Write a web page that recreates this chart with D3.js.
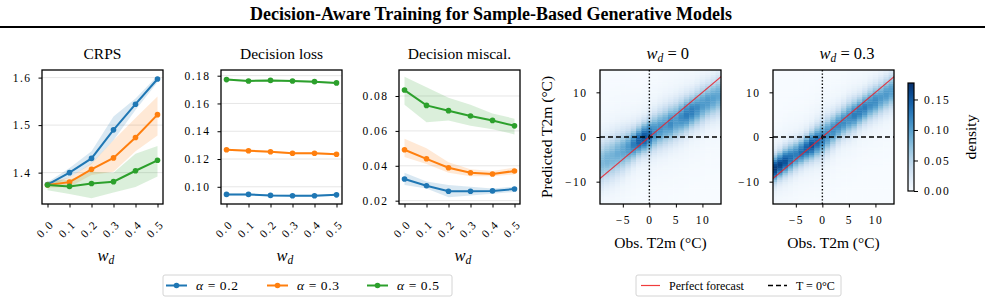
<!DOCTYPE html>
<html>
<head>
<meta charset="utf-8">
<script src="https://cdn.jsdelivr.net/npm/d3@7"></script>
<style>
  body { margin: 0; background: #fff; }
  svg text { font-family: "Liberation Serif", "Times New Roman", serif; fill: #000; }
</style>
</head>
<body>
<svg id="chart" width="985" height="304"></svg>
<script>
// ---- data ----
var wd = [0.0, 0.1, 0.2, 0.3, 0.4, 0.5];
var alphaLabels = ["0.2", "0.3", "0.5"];
var colors = ["#1f77b4", "#ff7f0e", "#2ca02c"];

var crpsMean = [
  [1.375, 1.400, 1.430, 1.490, 1.544, 1.597],
  [1.374, 1.380, 1.407, 1.431, 1.474, 1.522],
  [1.374, 1.371, 1.377, 1.381, 1.404, 1.426]
];
var crpsLo = [
  [1.370, 1.390, 1.418, 1.468, 1.532, 1.590],
  [1.368, 1.370, 1.395, 1.402, 1.445, 1.478],
  [1.363, 1.355, 1.346, 1.358, 1.370, 1.392]
];
var crpsHi = [
  [1.380, 1.410, 1.445, 1.518, 1.556, 1.604],
  [1.380, 1.390, 1.420, 1.468, 1.515, 1.560],
  [1.382, 1.385, 1.402, 1.400, 1.440, 1.456]
];

var lossMean = [
  [0.0945, 0.0945, 0.0938, 0.0935, 0.0935, 0.0942],
  [0.1267, 0.1260, 0.1252, 0.1241, 0.1241, 0.1234],
  [0.1772, 0.1762, 0.1766, 0.1762, 0.1757, 0.1748]
];
var lossLo = [
  [0.0938, 0.0938, 0.0931, 0.0928, 0.0928, 0.0935],
  [0.1260, 0.1253, 0.1245, 0.1234, 0.1234, 0.1227],
  [0.1765, 0.1755, 0.1759, 0.1755, 0.1750, 0.1741]
];
var lossHi = [
  [0.0952, 0.0952, 0.0945, 0.0942, 0.0942, 0.0949],
  [0.1274, 0.1267, 0.1259, 0.1248, 0.1248, 0.1241],
  [0.1779, 0.1769, 0.1773, 0.1769, 0.1764, 0.1755]
];

var miscMean = [
  [0.0324, 0.0286, 0.0254, 0.0254, 0.0256, 0.0267],
  [0.0492, 0.0440, 0.0389, 0.0360, 0.0353, 0.0370],
  [0.0834, 0.0746, 0.0716, 0.0685, 0.0660, 0.0629]
];
var miscLo = [
  [0.029, 0.027, 0.022, 0.023, 0.024, 0.025],
  [0.045, 0.041, 0.036, 0.034, 0.034, 0.035],
  [0.075, 0.065, 0.066, 0.063, 0.061, 0.058]
];
var miscHi = [
  [0.036, 0.031, 0.029, 0.028, 0.027, 0.028],
  [0.0555, 0.050, 0.042, 0.038, 0.037, 0.039],
  [0.091, 0.085, 0.079, 0.075, 0.070, 0.067]
];

// heatmaps: per observed-temperature column, centre / spread / peak density of predictions
var obsBins = [-9, -8, -7, -6, -5, -4, -3, -2, -1, 0, 1, 2, 3, 4, 5, 6, 7, 8, 9, 10, 11, 12, 13];
var centre0 = [-5.6, -5.0, -4.4, -3.7, -3.1, -2.4, -1.6, -0.8, -0.1, 0.5, 1.2, 1.9, 2.5, 3.1, 3.7, 4.4, 5.1, 5.8, 6.5, 7.3, 8.0, 8.6, 9.2];
var spread0 = [3.3, 3.2, 3.2, 3.1, 3.0, 2.7, 2.4, 2.2, 2.2, 2.4, 2.6, 2.7, 2.8, 2.7, 2.8, 2.7, 2.6, 2.5, 2.6, 2.7, 2.6, 2.7, 2.8];
var peak0 = [0.08, 0.085, 0.085, 0.09, 0.095, 0.105, 0.125, 0.145, 0.155, 0.14, 0.115, 0.11, 0.105, 0.115, 0.105, 0.115, 0.125, 0.125, 0.115, 0.105, 0.105, 0.10, 0.095];
var centre3 = [-7.0, -6.2, -5.4, -4.7, -4.0, -3.3, -2.5, -1.8, -1.0, -0.3, 0.6, 1.6, 2.6, 3.5, 4.3, 5.0, 5.8, 6.6, 7.4, 8.1, 8.8, 9.6, 10.3];
var spread3 = [1.9, 1.9, 2.0, 2.1, 2.1, 2.0, 2.0, 2.1, 2.3, 2.5, 2.5, 2.4, 2.3, 2.3, 2.4, 2.3, 2.2, 2.2, 2.3, 2.3, 2.4, 2.4, 2.5];
var peak3 = [0.17, 0.165, 0.155, 0.135, 0.125, 0.135, 0.145, 0.155, 0.14, 0.125, 0.115, 0.115, 0.115, 0.115, 0.115, 0.125, 0.125, 0.125, 0.115, 0.115, 0.105, 0.105, 0.10];
var predBins = d3.range(-14.75, 15, 0.5);
var cbarTicks = [0.00, 0.05, 0.10, 0.15];

var svg = d3.select("#chart");
var tickFont = "11.5px";

// title + rule
svg.append("text")
  .attr("x", 491).attr("y", 20)
  .attr("text-anchor", "middle")
  .style("font-weight", "bold").style("font-size", "18px")
  .text("Decision-Aware Training for Sample-Based Generative Models");
svg.append("line")
  .attr("x1", 0).attr("x2", 985).attr("y1", 27).attr("y2", 27)
  .attr("stroke", "#000").attr("stroke-width", 2);

function wdLabel(sel, suffix) {
  sel.append("tspan").style("font-style", "italic").text("w");
  sel.append("tspan").style("font-style", "italic").style("font-size", "0.7em").attr("dy", 3).text("d");
  if (suffix) sel.append("tspan").attr("dy", -3).text(suffix);
}

function styleAxis(a) {
  a.select(".domain").remove();
  a.attr("font-family", null).attr("font-size", null);
  a.selectAll(".tick line").attr("stroke", "#000").attr("stroke-width", 1);
  a.selectAll(".tick text").attr("fill", "#000")
    .style("font-family", "'Liberation Serif', serif")
    .style("font-size", tickFont).style("letter-spacing", "1.5px");
}

function linePanel(left, top, yDomain, yTicks, fmt, means, los, his, title) {
  var w = 121, h = 134;
  var x = d3.scaleLinear().domain([-0.025, 0.525]).range([left, left + w]);
  var y = d3.scaleLinear().domain(yDomain).range([top + h, top]);
  var g = svg.append("g");

  g.selectAll("line.grid").data(yTicks).enter().append("line")
    .attr("x1", left).attr("x2", left + w)
    .attr("y1", function(d) { return y(d); }).attr("y2", function(d) { return y(d); })
    .attr("stroke", "#e6e6e6").attr("stroke-width", 1);

  means.forEach(function(m, i) {
    var area = d3.area()
      .x(function(d, j) { return x(wd[j]); })
      .y0(function(d, j) { return y(los[i][j]); })
      .y1(function(d, j) { return y(his[i][j]); });
    g.append("path").datum(m).attr("d", area)
      .attr("fill", colors[i]).attr("fill-opacity", 0.17);
  });
  means.forEach(function(m, i) {
    var line = d3.line()
      .x(function(d, j) { return x(wd[j]); })
      .y(function(d) { return y(d); });
    g.append("path").datum(m).attr("d", line)
      .attr("fill", "none").attr("stroke", colors[i]).attr("stroke-width", 2);
    g.selectAll(null).data(m).enter().append("circle")
      .attr("cx", function(d, j) { return x(wd[j]); })
      .attr("cy", function(d) { return y(d); })
      .attr("r", 2.8).attr("fill", colors[i]);
  });

  var ax = g.append("g").attr("transform", "translate(0," + (top + h) + ")")
    .call(d3.axisBottom(x).tickValues(wd).tickSize(3.5).tickFormat(d3.format(".1f")));
  styleAxis(ax);
  ax.selectAll(".tick text")
    .attr("y", null).attr("dy", null)
    .attr("text-anchor", "middle").attr("dominant-baseline", "central")
    .attr("transform", "translate(-3,25) rotate(-45)");

  var ay = g.append("g").attr("transform", "translate(" + left + ",0)")
    .call(d3.axisLeft(y).tickValues(yTicks).tickSize(3.5).tickFormat(d3.format(fmt)).tickPadding(7));
  styleAxis(ay);

  g.append("rect").attr("x", left).attr("y", top).attr("width", w).attr("height", h)
    .attr("fill", "none").attr("stroke", "#000").attr("stroke-width", 1.3);

  g.append("text").attr("x", left + w / 2).attr("y", top - 11)
    .attr("text-anchor", "middle").style("font-size", "15.5px").text(title);
  var xl = g.append("text").attr("x", left + w / 2 - 5).attr("y", top + h + 57)
    .style("font-size", "16.5px");
  wdLabel(xl);
}

linePanel(42, 70, [1.334, 1.616], [1.4, 1.5, 1.6], ".1f", crpsMean, crpsLo, crpsHi, "CRPS");
linePanel(221, 70, [0.0876, 0.1841], [0.10, 0.12, 0.14, 0.16, 0.18], ".2f", lossMean, lossLo, lossHi, "Decision loss");
linePanel(399, 70, [0.0181, 0.0949], [0.02, 0.04, 0.06, 0.08], ".2f", miscMean, miscLo, miscHi, "Decision miscal.");

// heatmaps
var vmax = 0.177;
var cmap = d3.scaleSequential(d3.interpolateBlues).domain([0, vmax]).clamp(true);

function heatPanel(id, left, top, centre, spread, peak, suffix, withYLabel) {
  var w = 121, h = 134;
  var x = d3.scaleLinear().domain([-9.3, 13.5]).range([left, left + w]);
  var y = d3.scaleLinear().domain([-15, 15]).range([top + h, top]);
  var g = svg.append("g");
  svg.append("clipPath").attr("id", id).append("rect")
    .attr("x", left).attr("y", top).attr("width", w).attr("height", h);
  var body = g.append("g").attr("clip-path", "url(#" + id + ")");

  var cells = [];
  obsBins.forEach(function(o, i) {
    predBins.forEach(function(p) {
      var z = (p - centre[i]) / spread[i];
      var v = peak[i] * (0.9 * Math.exp(-0.5 * z * z) + 0.1 * Math.exp(-0.5 * z * z / 6.25));
      cells.push({ o: o, p: p, v: v });
    });
  });
  body.selectAll("rect").data(cells).enter().append("rect")
    .attr("x", function(d) { return x(d.o - 0.5); })
    .attr("y", function(d) { return y(d.p + 0.25); })
    .attr("width", x(1) - x(0) + 0.4)
    .attr("height", y(0) - y(0.5) + 0.4)
    .attr("fill", function(d) { return cmap(d.v); });

  body.append("line").attr("x1", x(-15)).attr("y1", y(-15)).attr("x2", x(15)).attr("y2", y(15))
    .attr("stroke", "#e8202a").attr("stroke-width", 1.1).attr("stroke-opacity", 0.85);
  body.append("line").attr("x1", left).attr("x2", left + w).attr("y1", y(0)).attr("y2", y(0))
    .attr("stroke", "#000").attr("stroke-width", 1.4).attr("stroke-dasharray", "5,3");
  body.append("line").attr("x1", x(0)).attr("x2", x(0)).attr("y1", top).attr("y2", top + h)
    .attr("stroke", "#000").attr("stroke-width", 1.4).attr("stroke-dasharray", "1.4,2");

  var ax = g.append("g").attr("transform", "translate(0," + (top + h) + ")")
    .call(d3.axisBottom(x).tickValues([-5, 0, 5, 10]).tickSize(3.5).tickPadding(8));
  styleAxis(ax);
  var ay = g.append("g").attr("transform", "translate(" + left + ",0)")
    .call(d3.axisLeft(y).tickValues([-10, 0, 10]).tickSize(3.5).tickPadding(9));
  styleAxis(ay);

  g.append("rect").attr("x", left).attr("y", top).attr("width", w).attr("height", h)
    .attr("fill", "none").attr("stroke", "#000").attr("stroke-width", 1.3);

  var t = g.append("text").attr("x", left + w / 2 - 14).attr("y", top - 11)
    .style("font-size", "16.5px");
  wdLabel(t, " = " + suffix);

  g.append("text").attr("x", left + w / 2).attr("y", top + h + 44)
    .attr("text-anchor", "middle").style("font-size", "15.5px").text("Obs. T2m (°C)");
  if (withYLabel) {
    g.append("text").attr("transform", "translate(" + (left - 54) + "," + (top + h / 2) + ") rotate(-90)")
      .attr("text-anchor", "middle").attr("dominant-baseline", "central")
      .style("font-size", "15.5px").text("Predicted T2m (°C)");
  }
}

heatPanel("clip0", 600, 70, centre0, spread0, peak0, "0", true);
heatPanel("clip3", 773, 70, centre3, spread3, peak3, "0.3", false);

// colorbar
var cb = { left: 908, top: 83, w: 6, h: 108 };
var grad = svg.append("defs").append("linearGradient").attr("id", "cbgrad")
  .attr("x1", 0).attr("y1", 1).attr("x2", 0).attr("y2", 0);
d3.range(0, 1.0001, 0.1).forEach(function(t) {
  grad.append("stop").attr("offset", t).attr("stop-color", d3.interpolateBlues(t));
});
svg.append("rect").attr("x", cb.left).attr("y", cb.top).attr("width", cb.w).attr("height", cb.h)
  .attr("fill", "url(#cbgrad)").attr("stroke", "#000").attr("stroke-width", 1.2);
var cy = d3.scaleLinear().domain([0, vmax]).range([cb.top + cb.h, cb.top]);
var cax = svg.append("g").attr("transform", "translate(" + (cb.left + cb.w) + ",0)")
  .call(d3.axisRight(cy).tickValues(cbarTicks).tickSize(4).tickPadding(6).tickFormat(d3.format(".2f")));
styleAxis(cax);
svg.append("text").attr("transform", "translate(970," + (cb.top + cb.h / 2) + ") rotate(-90)")
  .attr("text-anchor", "middle").attr("dominant-baseline", "central")
  .style("font-size", "15.5px").text("density");

// legend for the line panels
var lg = svg.append("g");
lg.append("rect").attr("x", 163).attr("y", 275).attr("width", 289).attr("height", 21)
  .attr("rx", 2).attr("fill", "#fff").attr("stroke", "#d4d4d4").attr("stroke-width", 1);
var legX = [166, 267, 367];
alphaLabels.forEach(function(a, i) {
  lg.append("line").attr("x1", legX[i]).attr("x2", legX[i] + 21).attr("y1", 285.5).attr("y2", 285.5)
    .attr("stroke", colors[i]).attr("stroke-width", 2);
  lg.append("circle").attr("cx", legX[i] + 10.5).attr("cy", 285.5).attr("r", 2.8).attr("fill", colors[i]);
  var t = lg.append("text").attr("x", legX[i] + 30).attr("y", 290).style("font-size", "13.5px")
    .style("letter-spacing", "0.6px");
  t.append("tspan").style("font-style", "italic").text("α");
  t.append("tspan").text(" = " + a);
});

// legend for the heatmaps
var lg2 = svg.append("g");
lg2.append("rect").attr("x", 636).attr("y", 275).attr("width", 205).attr("height", 21)
  .attr("rx", 2).attr("fill", "#fff").attr("stroke", "#d4d4d4").attr("stroke-width", 1);
lg2.append("line").attr("x1", 641).attr("x2", 660).attr("y1", 285.5).attr("y2", 285.5)
  .attr("stroke", "#f03c3c").attr("stroke-width", 1.2);
lg2.append("text").attr("x", 669).attr("y", 289.5).style("font-size", "12px").text("Perfect forecast");
lg2.append("line").attr("x1", 768).attr("x2", 787).attr("y1", 285.5).attr("y2", 285.5)
  .attr("stroke", "#000").attr("stroke-width", 1.4).attr("stroke-dasharray", "5,3");
lg2.append("text").attr("x", 796).attr("y", 289.5).style("font-size", "12px").text("T = 0°C");
</script>
</body>
</html>
